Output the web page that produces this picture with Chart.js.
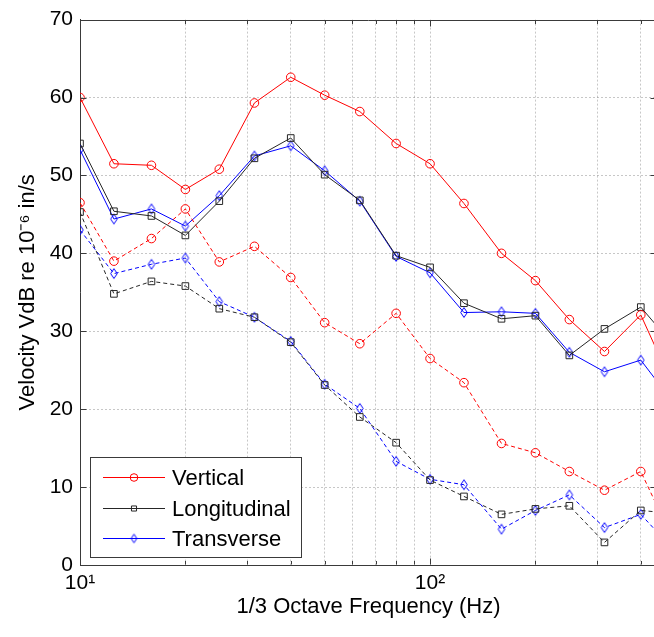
<!DOCTYPE html>
<html>
<head>
<meta charset="utf-8">
<script src="https://cdn.jsdelivr.net/npm/chart.js@4/dist/chart.umd.min.js"></script>
<style>
  html, body { margin: 0; padding: 0; overflow: hidden; background: #fff; width: 654px; height: 637px; }
  #wrap { width: 664px; height: 637px; }
  canvas { display: block; }
</style>
</head>
<body>
<div id="wrap"><canvas id="chart" width="664" height="637"></canvas></div>
<script>
// 1/3 octave band centre frequencies (Hz)
const freqs = [10, 12.5, 16, 20, 25, 31.5, 40, 50, 63, 80, 100, 125, 160, 200, 250, 315, 400, 500];

// Velocity levels, VdB re 1e-6 in/s (solid = upper set, dashed = lower set)
const verticalUpper     = [60.0, 51.5, 51.3, 48.2, 50.8, 59.3, 62.6, 60.3, 58.2, 54.1, 51.5, 46.4, 40.0, 36.5, 31.5, 27.4, 32.1, 22.5];
const longitudinalUpper = [54.1, 45.4, 44.8, 42.3, 46.7, 52.2, 54.8, 50.1, 46.8, 39.7, 38.2, 33.6, 31.6, 32.0, 26.9, 30.3, 33.1, 28.0];
const transverseUpper   = [53.3, 44.4, 45.7, 43.5, 47.4, 52.5, 53.8, 50.6, 46.7, 39.6, 37.5, 32.4, 32.5, 32.3, 27.3, 24.8, 26.3, 20.6];
const verticalLower     = [46.5, 39.0, 41.9, 45.7, 38.9, 40.9, 36.9, 31.1, 28.4, 32.3, 26.5, 23.4, 15.6, 14.4, 12.0, 9.6, 12.0, 2.8];
const longitudinalLower = [45.3, 34.8, 36.4, 35.8, 32.9, 31.8, 28.6, 23.1, 19.0, 15.7, 10.9, 8.8, 6.5, 7.2, 7.6, 2.9, 7.0, 6.6];
const transverseLower   = [43.0, 37.4, 38.6, 39.4, 33.8, 31.8, 28.7, 23.2, 20.1, 13.3, 11.0, 10.3, 4.6, 7.0, 9.0, 4.8, 6.5, 1.8];

// Axis ticks
const xTickValues = [10, 20, 30, 40, 50, 60, 70, 80, 90, 100, 200, 300, 400];
const xMajorLabels = { 10: '10\u00B9', 100: '10\u00B2' };
const yTickValues = [0, 10, 20, 30, 40, 50, 60, 70];

const FONT = "'Liberation Sans', Arial, Helvetica, sans-serif";
const AXIS_COLOR = '#3a3a3a';
const GRID_COLOR = 'rgba(0,0,0,0.22)';
const RED = '#ff0000', BLACK = '#262626', BLUE = '#0000ff';

function diamondMarker(color, hw, hh) {
  const c = document.createElement('canvas');
  c.width = Math.ceil(hw * 2 + 3);
  c.height = Math.ceil(hh * 2 + 3);
  const g = c.getContext('2d');
  const cx = c.width / 2, cy = c.height / 2;
  g.strokeStyle = color;
  g.lineWidth = 1;
  g.beginPath();
  g.moveTo(cx, cy - hh);
  g.lineTo(cx + hw, cy);
  g.lineTo(cx, cy + hh);
  g.lineTo(cx - hw, cy);
  g.closePath();
  g.stroke();
  return c;
}
const blueDiamond = diamondMarker(BLUE, 3.3, 4.9);
const blueDiamondSmall = diamondMarker(BLUE, 2.8, 4.3);

function series(label, values, color, style, dashed, inLegend) {
  return {
    label,
    data: freqs.map((f, i) => ({ x: f, y: values[i] })),
    borderColor: color,
    backgroundColor: 'rgba(0,0,0,0)',
    borderWidth: 1,
    borderDash: dashed ? [4, 3] : [],
    pointStyle: style,
    pointRadius: style === 'circle' ? 4.3 : 4.7,
    pointBorderWidth: 1,
    pointBorderColor: color,
    pointBackgroundColor: 'rgba(0,0,0,0)',
    tension: 0,
    inLegend
  };
}

const datasets = [
  series('Vertical', verticalLower, RED, 'circle', true, false),
  series('Longitudinal', longitudinalLower, BLACK, 'rect', true, false),
  series('Transverse', transverseLower, BLUE, blueDiamond, true, false),
  series('Vertical', verticalUpper, RED, 'circle', false, true),
  series('Longitudinal', longitudinalUpper, BLACK, 'rect', false, true),
  series('Transverse', transverseUpper, BLUE, blueDiamond, false, true)
];

// Box frame (top/right), inward tick marks on all four sides
const framePlugin = {
  id: 'frame',
  afterDraw(chart) {
    const { ctx, chartArea: a, scales } = chart;
    const L = Math.round(a.left) + 0.5, R = Math.round(a.right) - 0.5;
    const T = Math.round(a.top) + 0.5, B = Math.round(a.bottom) - 0.5;
    ctx.save();
    ctx.strokeStyle = AXIS_COLOR;
    ctx.lineWidth = 1;
    ctx.beginPath();
    ctx.moveTo(L, T); ctx.lineTo(R, T); ctx.lineTo(R, B);
    xTickValues.forEach(v => {
      const px = Math.round(scales.x.getPixelForValue(v)) + 0.5;
      const len = xMajorLabels[v] ? 6 : 3.5;
      ctx.moveTo(px, B); ctx.lineTo(px, B - len);
      ctx.moveTo(px, T); ctx.lineTo(px, T + len);
    });
    yTickValues.forEach(v => {
      const py = Math.round(scales.y.getPixelForValue(v)) + 0.5;
      ctx.moveTo(L, py); ctx.lineTo(L + 6, py);
      ctx.moveTo(R, py); ctx.lineTo(R - 6, py);
    });
    ctx.stroke();
    ctx.restore();
  }
};

// Legend box with line + marker samples
const legendPlugin = {
  id: 'boxLegend',
  afterDraw(chart) {
    const { ctx } = chart;
    const items = chart.data.datasets.filter(d => d.inLegend);
    const bx = 90.5, by = 457.5, bw = 211, bh = 100;
    ctx.save();
    ctx.fillStyle = '#fff';
    ctx.fillRect(bx, by, bw, bh);
    ctx.strokeStyle = AXIS_COLOR;
    ctx.lineWidth = 1;
    ctx.strokeRect(bx, by, bw, bh);
    ctx.font = '22px ' + FONT;
    ctx.textBaseline = 'middle';
    ctx.textAlign = 'left';
    items.forEach((d, i) => {
      const y = Math.round(477 + i * 30.5) + 0.5;
      ctx.strokeStyle = d.borderColor;
      ctx.setLineDash([]);
      ctx.beginPath();
      ctx.moveTo(103, y); ctx.lineTo(165, y);
      ctx.stroke();
      ctx.fillStyle = 'rgba(0,0,0,0)';
      const style = d.pointStyle === blueDiamond ? blueDiamondSmall : d.pointStyle;
      Chart.helpers.drawPoint(ctx, {
        pointStyle: style,
        radius: d.pointStyle === 'circle' ? 3.8 : 3.6,
        borderWidth: 1,
        rotation: 0
      }, 134, y);
      ctx.fillStyle = '#000';
      ctx.fillText(d.label, 172, y + 1);
    });
    ctx.restore();
  }
};

new Chart(document.getElementById('chart'), {
  type: 'line',
  data: { datasets },
  options: {
    responsive: false,
    animation: false,
    devicePixelRatio: 1,
    layout: { padding: { top: 16, right: 7, left: 0, bottom: 0 } },
    plugins: { legend: { display: false }, tooltip: { enabled: false } },
    scales: {
      x: {
        type: 'logarithmic',
        position: 'bottom',
        min: 10,
        max: 445,
        afterBuildTicks: s => { s.ticks = xTickValues.map(v => ({ value: v, major: !!xMajorLabels[v] })); },
        afterFit: s => { s.height = 72; },
        ticks: {
          autoSkip: false,
          maxRotation: 0,
          padding: 6,
          color: '#000',
          font: { family: FONT, size: 21 },
          callback: v => xMajorLabels[v] || ''
        },
        grid: {
          drawTicks: false,
          color: GRID_COLOR,
          lineWidth: 1
        },
        border: { display: true, color: AXIS_COLOR, width: 1, dash: [2, 2] },
        title: {
          display: true,
          text: '1/3 Octave Frequency (Hz)',
          color: '#000',
          font: { family: FONT, size: 22 },
          padding: { top: 0, bottom: 17 }
        }
      },
      y: {
        type: 'linear',
        min: 0,
        max: 70,
        afterFit: s => { s.width = 80; },
        ticks: {
          stepSize: 10,
          padding: 7,
          color: '#000',
          font: { family: FONT, size: 21 }
        },
        grid: {
          drawTicks: false,
          color: c => (c.tick && (c.tick.value === 0 || c.tick.value === 70)) ? 'rgba(0,0,0,0)' : GRID_COLOR,
          lineWidth: 1
        },
        border: { display: true, color: AXIS_COLOR, width: 1, dash: [2, 2] },
        title: {
          display: true,
          text: 'Velocity VdB re 10\u207B\u2076 in/s',
          color: '#000',
          font: { family: FONT, size: 22 },
          padding: { top: 15, bottom: 0 }
        }
      }
    }
  },
  plugins: [framePlugin, legendPlugin]
});
</script>
</body>
</html>
